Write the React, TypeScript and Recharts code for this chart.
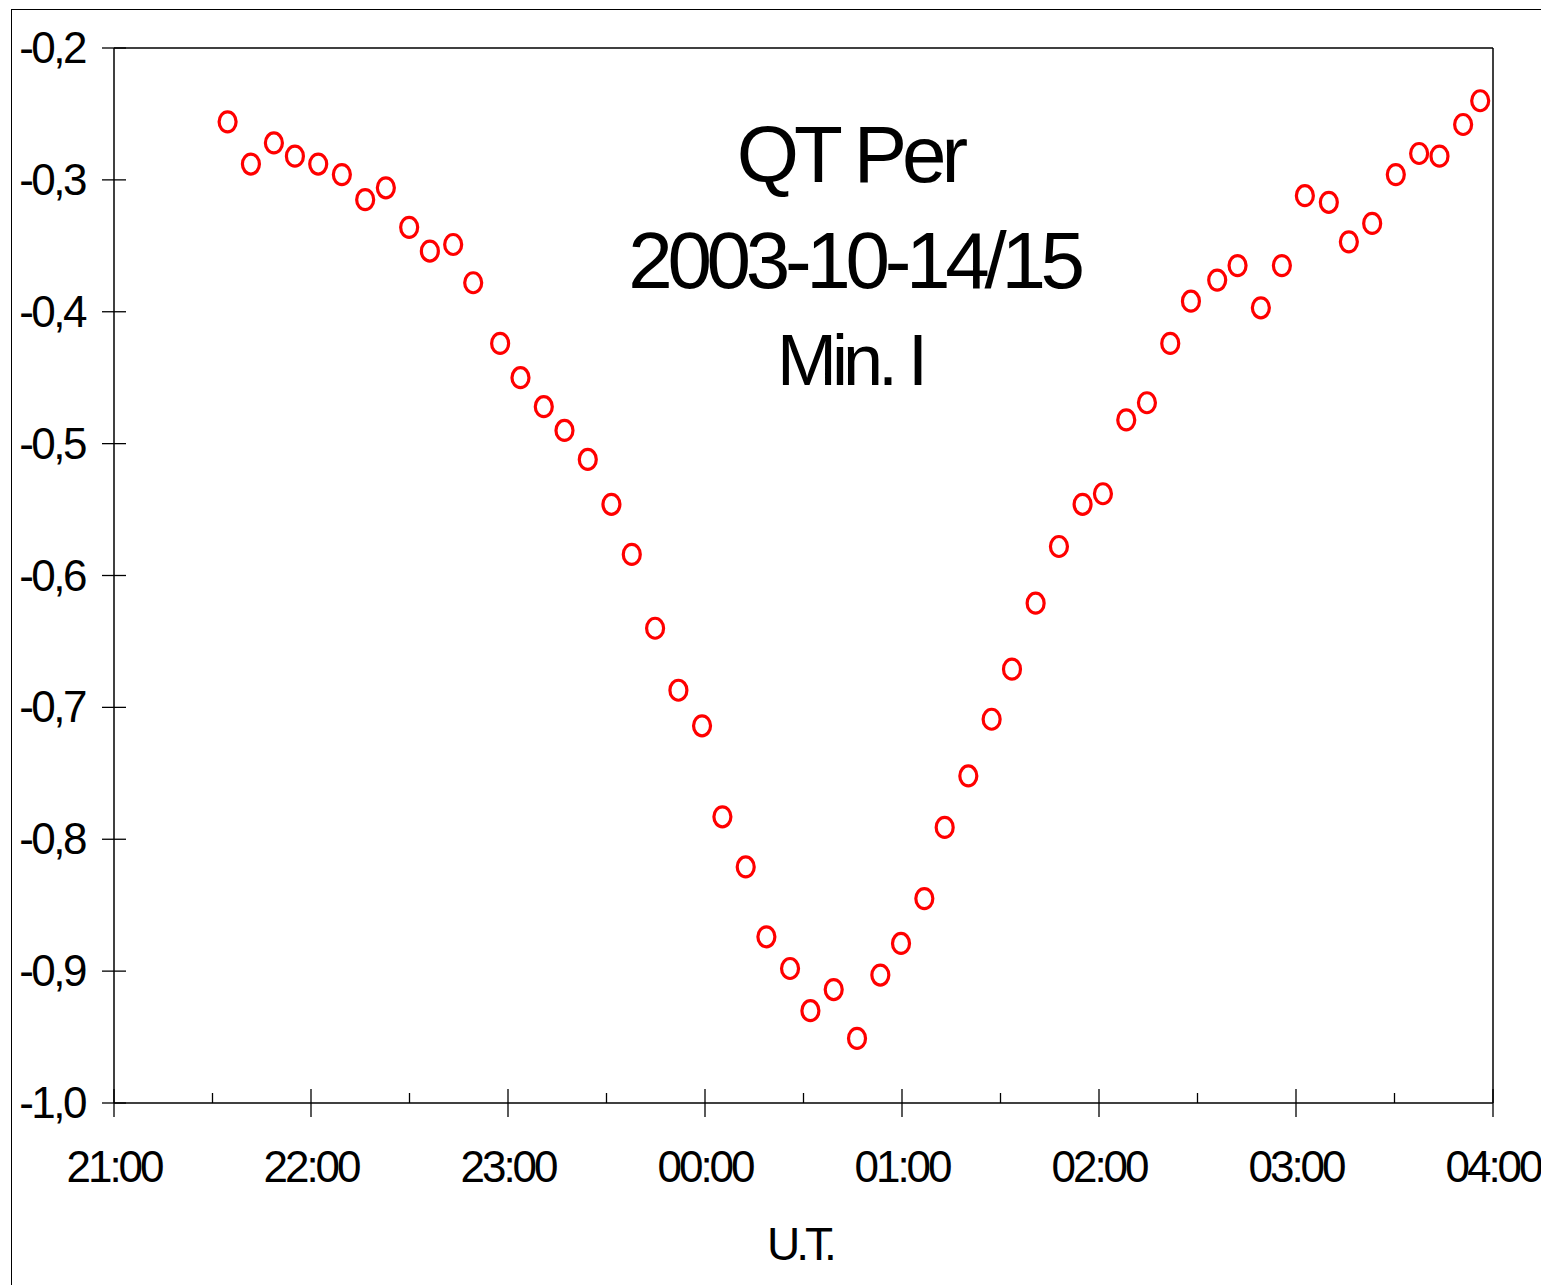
import React from "react";
import { ScatterChart, Scatter, XAxis, YAxis, ReferenceLine } from "recharts";

// Minutes after 21:00 U.T.
const times = [
  34.6, 41.7, 48.7, 55.1, 62.2, 69.4, 76.5, 82.8, 89.9, 96.2, 103.3, 109.4,
  117.6, 123.8, 130.9, 137.2, 144.3, 151.5, 157.7, 164.8, 171.9, 179.1,
  185.3, 192.4, 198.7, 205.9, 212.1, 219.2, 226.3, 233.4, 239.7, 246.8,
  253.0, 260.2, 267.3, 273.5, 280.7, 287.8, 295.0, 301.2, 308.3, 314.6,
  321.7, 328.0, 336.0, 342.2, 349.3, 355.7, 362.7, 370.0, 376.1, 383.2,
  390.4, 397.5, 403.7, 410.9, 416.1,
];

const magnitudes = [
  -0.256, -0.288, -0.272, -0.282, -0.288, -0.296, -0.315, -0.306, -0.336,
  -0.354, -0.349, -0.378, -0.424, -0.45, -0.472, -0.49, -0.512, -0.546,
  -0.584, -0.64, -0.687, -0.714, -0.783, -0.821, -0.874, -0.898, -0.93,
  -0.914, -0.951, -0.903, -0.879, -0.845, -0.791, -0.752, -0.709, -0.671,
  -0.621, -0.578, -0.546, -0.538, -0.482, -0.469, -0.424, -0.392, -0.376,
  -0.365, -0.397, -0.365, -0.312, -0.317, -0.347, -0.333, -0.296, -0.28,
  -0.282, -0.258, -0.24,
];

const xTicks = [0, 30, 60, 90, 120, 150, 180, 210, 240, 270, 300, 330, 360, 390, 420];
const yTicks = [-1.0, -0.9, -0.8, -0.7, -0.6, -0.5, -0.4, -0.3, -0.2];
const titleLines = ["QT Per", "2003-10-14/15", "Min. I"];
const xLabel = "U.T.";

const data = times.map((t, i) => ({ t, m: magnitudes[i] }));

const FONT = "'Liberation Sans', Arial, Helvetica, sans-serif";

const fmtTime = (m: number) => {
  const h = (21 + Math.floor(m / 60)) % 24;
  const mm = Math.round(m % 60);
  return `${String(h).padStart(2, "0")}:${String(mm).padStart(2, "0")}`;
};

const fmtMag = (v: number) => v.toFixed(1).replace(".", ",");

const XTick = (props: any) => {
  const { x, y, payload } = props;
  const v = payload.value as number;
  const major = Math.round(v) % 60 === 0;
  if (!major) {
    return <line x1={x} x2={x} y1={y - 10} y2={y} stroke="#000" strokeWidth={1.3} />;
  }
  return (
    <g>
      <line x1={x} x2={x} y1={y - 14} y2={y + 14} stroke="#000" strokeWidth={1.3} />
      <text
        x={x}
        y={y + 79}
        textAnchor="middle"
        fontFamily={FONT}
        fontSize={44}
        letterSpacing={-3}
        fill="#000"
      >
        {fmtTime(v)}
      </text>
    </g>
  );
};

const YTick = (props: any) => {
  const { x, y, payload } = props;
  return (
    <g>
      <line x1={x - 12} x2={x + 12} y1={y} y2={y} stroke="#000" strokeWidth={1.3} />
      <text
        x={x - 29}
        y={y + 15}
        textAnchor="end"
        fontFamily={FONT}
        fontSize={44}
        letterSpacing={-2.5}
        fill="#000"
      >
        {fmtMag(payload.value)}
      </text>
    </g>
  );
};

const Ring = (props: any) => {
  const { cx, cy } = props;
  return <ellipse cx={cx} cy={cy} rx={8.5} ry={10} fill="none" stroke="#ff0000" strokeWidth={3.2} />;
};

export default function App() {
  return (
    <div
      style={{
        position: "absolute",
        left: 0,
        top: 0,
        width: 1541,
        height: 1285,
        overflow: "hidden",
        background: "#fff",
      }}
    >
      <div
        style={{
          position: "absolute",
          left: 11,
          top: 9,
          width: 3000,
          height: 3000,
          borderLeft: "1.5px solid #000",
          borderTop: "1.5px solid #000",
        }}
      />
      <div style={{ position: "absolute", left: 0, top: 0 }}>
        <ScatterChart width={1541} height={1285} margin={{ top: 48, right: 48, bottom: 0, left: 0 }}>
          <XAxis
            type="number"
            dataKey="t"
            domain={[0, 420]}
            ticks={xTicks}
            interval={0}
            height={182}
            tickSize={0}
            tickMargin={0}
            tickLine={false}
            axisLine={{ stroke: "#000", strokeWidth: 1.5 }}
            tick={<XTick />}
            allowDataOverflow
          />
          <YAxis
            type="number"
            dataKey="m"
            domain={[-1.0, -0.2]}
            ticks={yTicks}
            interval={0}
            width={114}
            tickSize={0}
            tickMargin={0}
            tickLine={false}
            axisLine={{ stroke: "#000", strokeWidth: 1.5 }}
            tick={<YTick />}
            allowDataOverflow
          />
          <ReferenceLine y={-0.2} stroke="#000" strokeWidth={1.5} />
          <ReferenceLine x={420} stroke="#000" strokeWidth={1.5} />
          <Scatter data={data} shape={<Ring />} isAnimationActive={false} />
        </ScatterChart>
      </div>
      <svg
        width={1541}
        height={1285}
        style={{ position: "absolute", left: 0, top: 0, pointerEvents: "none" }}
      >
        <text x={850} y={182} textAnchor="middle" fontFamily={FONT} fontSize={80} letterSpacing={-5} fill="#000">
          {titleLines[0]}
        </text>
        <text x={854} y={288} textAnchor="middle" fontFamily={FONT} fontSize={80} letterSpacing={-5.3} fill="#000">
          {titleLines[1]}
        </text>
        <text x={850} y={385} textAnchor="middle" fontFamily={FONT} fontSize={72} letterSpacing={-5} fill="#000">
          {titleLines[2]}
        </text>
        <text x={800} y={1260} textAnchor="middle" fontFamily={FONT} fontSize={46} letterSpacing={-4} fill="#000">
          {xLabel}
        </text>
      </svg>
    </div>
  );
}
